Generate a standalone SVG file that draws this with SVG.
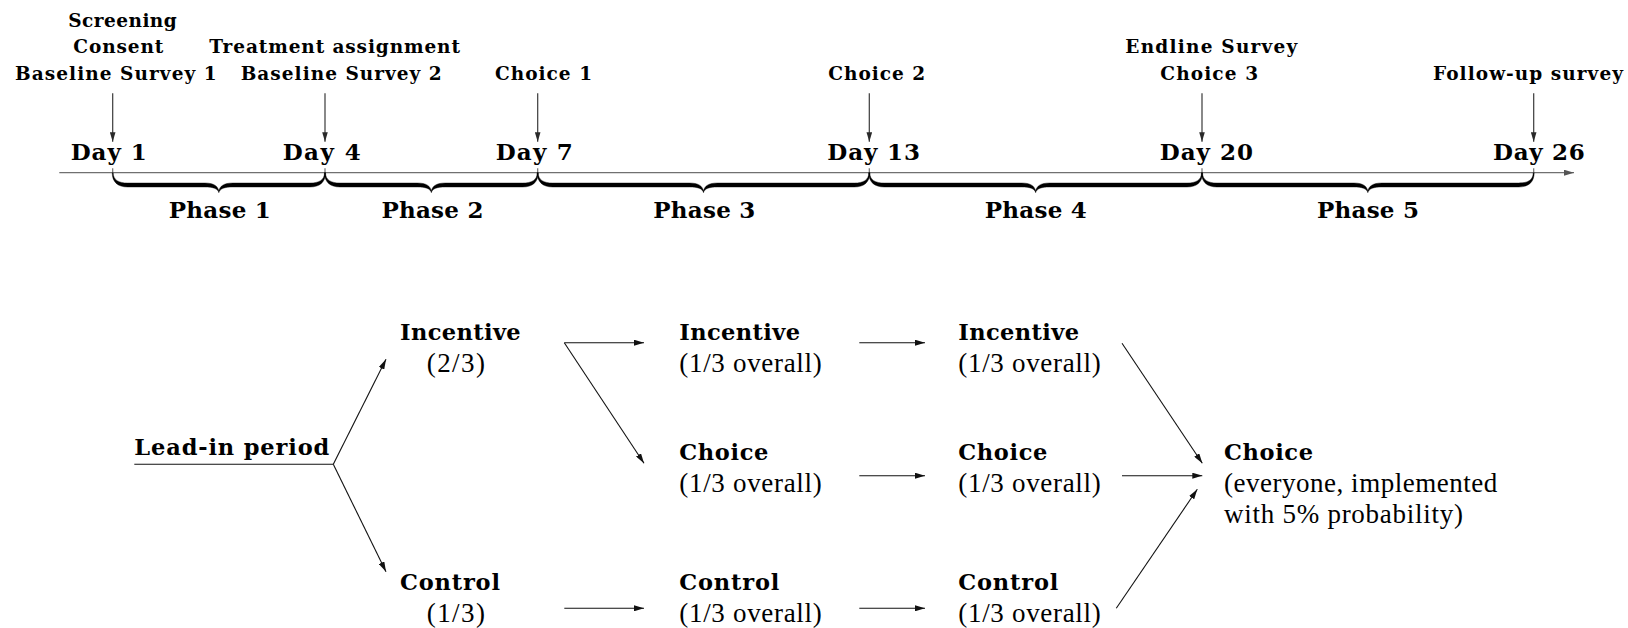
<svg xmlns="http://www.w3.org/2000/svg" width="1628" height="628" viewBox="0 0 1628 628">
<style>
.lb{font-family:"DejaVu Serif","Liberation Serif",serif;font-weight:bold;font-size:18.5px;fill:#000}
.dy{font-family:"DejaVu Serif","Liberation Serif",serif;font-weight:bold;font-size:23px;fill:#000}
.bb{font-family:"DejaVu Serif","Liberation Serif",serif;font-weight:bold;font-size:22.5px;fill:#000}
.rg{font-family:"Liberation Serif","DejaVu Serif",serif;font-size:27px;fill:#000}
.axis{stroke:#707070;stroke-width:1.3;fill:none}
.tick{stroke:#707070;stroke-width:1.2}
.tarr{stroke:#3a3a3a;stroke-width:1.2;fill:none}
.barr{stroke:#111;stroke-width:1.1;fill:none}
.brace{fill:#000;stroke:#000;stroke-width:0.4}
</style>
<defs>
<marker id="ahg" viewBox="0 0 10 6" refX="10" refY="3" markerWidth="10" markerHeight="6" orient="auto" markerUnits="userSpaceOnUse"><path d="M0,0 L10,3 L0,6 Z" fill="#555"/></marker>
<marker id="aht" viewBox="0 0 10 6" refX="10" refY="3" markerWidth="10" markerHeight="5.6" orient="auto" markerUnits="userSpaceOnUse"><path d="M0,0 L10,3 L0,6 Z" fill="#2a2a2a"/></marker>
<marker id="ahb" viewBox="0 0 10 6" refX="10" refY="3" markerWidth="10" markerHeight="6" orient="auto" markerUnits="userSpaceOnUse"><path d="M0,0 L10,3 L0,6 Z" fill="#111"/></marker>
</defs>

<g id="timeline">
<line class="axis" x1="59.3" y1="172.7" x2="1574" y2="172.7" marker-end="url(#ahg)"/>
<g id="ticks">
<line class="tick" x1="112.7" y1="168.3" x2="112.7" y2="172.7"/>
<line class="tick" x1="325" y1="168.3" x2="325" y2="172.7"/>
<line class="tick" x1="537.7" y1="168.3" x2="537.7" y2="172.7"/>
<line class="tick" x1="869.3" y1="168.3" x2="869.3" y2="172.7"/>
<line class="tick" x1="1202" y1="168.3" x2="1202" y2="172.7"/>
<line class="tick" x1="1533.7" y1="168.3" x2="1533.7" y2="172.7"/>
</g>
<g id="braces">
<path class="brace" d="M113.2,172.7 C113.2,180 118.7,183 127.7,183 L204.85,183 C213.85,183 217.85,186 218.85,191 C219.85,186 223.85,183 232.85,183 L310,183 C319,183 324.5,180 324.5,172.7 L325.5,172.7 C325.5,182 320,187 310,187 L232.85,187 C224.85,187 219.85,188.5 218.85,192.7 C217.85,188.5 212.85,187 204.85,187 L127.7,187 C117.7,187 112.2,182 112.2,172.7 Z"/>
<path class="brace" d="M325.5,172.7 C325.5,180 331,183 340,183 L417.35,183 C426.35,183 430.35,186 431.35,191 C432.35,186 436.35,183 445.35,183 L522.7,183 C531.7,183 537.2,180 537.2,172.7 L538.2,172.7 C538.2,182 532.7,187 522.7,187 L445.35,187 C437.35,187 432.35,188.5 431.35,192.7 C430.35,188.5 425.35,187 417.35,187 L340,187 C330,187 324.5,182 324.5,172.7 Z"/>
<path class="brace" d="M538.2,172.7 C538.2,180 543.7,183 552.7,183 L689.5,183 C698.5,183 702.5,186 703.5,191 C704.5,186 708.5,183 717.5,183 L854.3,183 C863.3,183 868.8,180 868.8,172.7 L869.8,172.7 C869.8,182 864.3,187 854.3,187 L717.5,187 C709.5,187 704.5,188.5 703.5,192.7 C702.5,188.5 697.5,187 689.5,187 L552.7,187 C542.7,187 537.2,182 537.2,172.7 Z"/>
<path class="brace" d="M869.8,172.7 C869.8,180 875.3,183 884.3,183 L1021.65,183 C1030.65,183 1034.65,186 1035.65,191 C1036.65,186 1040.65,183 1049.65,183 L1187,183 C1196,183 1201.5,180 1201.5,172.7 L1202.5,172.7 C1202.5,182 1197,187 1187,187 L1049.65,187 C1041.65,187 1036.65,188.5 1035.65,192.7 C1034.65,188.5 1029.65,187 1021.65,187 L884.3,187 C874.3,187 868.8,182 868.8,172.7 Z"/>
<path class="brace" d="M1202.5,172.7 C1202.5,180 1208,183 1217,183 L1353.85,183 C1362.85,183 1366.85,186 1367.85,191 C1368.85,186 1372.85,183 1381.85,183 L1518.7,183 C1527.7,183 1533.2,180 1533.2,172.7 L1534.2,172.7 C1534.2,182 1528.7,187 1518.7,187 L1381.85,187 C1373.85,187 1368.85,188.5 1367.85,192.7 C1366.85,188.5 1361.85,187 1353.85,187 L1217,187 C1207,187 1201.5,182 1201.5,172.7 Z"/>
</g>
</g>

<g id="connectors">
<line class="tarr" x1="112.7" y1="93.3" x2="112.7" y2="141.7" marker-end="url(#aht)"/>
<line class="tarr" x1="325" y1="93.3" x2="325" y2="141.7" marker-end="url(#aht)"/>
<line class="tarr" x1="537.7" y1="93.3" x2="537.7" y2="141.7" marker-end="url(#aht)"/>
<line class="tarr" x1="869.3" y1="93.3" x2="869.3" y2="141.7" marker-end="url(#aht)"/>
<line class="tarr" x1="1202" y1="93.3" x2="1202" y2="141.7" marker-end="url(#aht)"/>
<line class="tarr" x1="1533.7" y1="93.3" x2="1533.7" y2="141.7" marker-end="url(#aht)"/>

<line class="barr" x1="134.3" y1="464.3" x2="333.3" y2="464.3"/>
<line class="barr" x1="333.3" y1="464.3" x2="386" y2="359.3" marker-end="url(#ahb)"/>
<line class="barr" x1="333.3" y1="464.3" x2="386" y2="571.7" marker-end="url(#ahb)"/>
<line class="barr" x1="564.3" y1="342.7" x2="644" y2="342.7" marker-end="url(#ahb)"/>
<line class="barr" x1="564.3" y1="342.7" x2="644" y2="463.3" marker-end="url(#ahb)"/>
<line class="barr" x1="564.3" y1="608.3" x2="644" y2="608.3" marker-end="url(#ahb)"/>
<line class="barr" x1="859.3" y1="342.7" x2="925" y2="342.7" marker-end="url(#ahb)"/>
<line class="barr" x1="859.3" y1="475.7" x2="925" y2="475.7" marker-end="url(#ahb)"/>
<line class="barr" x1="859.3" y1="608.3" x2="925" y2="608.3" marker-end="url(#ahb)"/>
<line class="barr" x1="1122" y1="343.3" x2="1202.3" y2="463.3" marker-end="url(#ahb)"/>
<line class="barr" x1="1122" y1="475.7" x2="1202.3" y2="475.7" marker-end="url(#ahb)"/>
<line class="barr" x1="1116.3" y1="608.3" x2="1197.3" y2="489.3" marker-end="url(#ahb)"/>
</g>

<g id="label-day1">
<text class="lb" x="68.3" y="26.7" textLength="108.4">Screening</text>
<text class="lb" x="73.3" y="53.3" textLength="90">Consent</text>
<text class="lb" x="15" y="80" textLength="201.7">Baseline Survey 1</text>
</g>
<g id="label-day4">
<text class="lb" x="209.3" y="53.3" textLength="250.7">Treatment assignment</text>
<text class="lb" x="240.7" y="80" textLength="201">Baseline Survey 2</text>
</g>
<g id="label-day7"><text class="lb" x="495" y="80" textLength="97">Choice 1</text></g>
<g id="label-day13"><text class="lb" x="828.3" y="80" textLength="96.7">Choice 2</text></g>
<g id="label-day20">
<text class="lb" x="1125.3" y="53.3" textLength="172">Endline Survey</text>
<text class="lb" x="1160.3" y="80" textLength="97.7">Choice 3</text>
</g>
<g id="label-day26"><text class="lb" x="1433" y="80" textLength="190">Follow-up survey</text></g>

<g id="days">
<text class="dy" x="70.7" y="160" textLength="76">Day 1</text>
<text class="dy" x="282.7" y="160" textLength="78">Day 4</text>
<text class="dy" x="495.7" y="160" textLength="77">Day 7</text>
<text class="dy" x="827.3" y="160" textLength="92.7">Day 13</text>
<text class="dy" x="1159.7" y="160" textLength="93.3">Day 20</text>
<text class="dy" x="1493" y="160" textLength="91.7">Day 26</text>
</g>
<g id="phases">
<text class="dy" x="219.8" y="218.3" text-anchor="middle" textLength="102">Phase 1</text>
<text class="dy" x="432.4" y="218.3" text-anchor="middle" textLength="102">Phase 2</text>
<text class="dy" x="704.3" y="218.3" text-anchor="middle" textLength="102">Phase 3</text>
<text class="dy" x="1035.8" y="218.3" text-anchor="middle" textLength="102">Phase 4</text>
<text class="dy" x="1368" y="218.3" text-anchor="middle" textLength="102">Phase 5</text>
</g>

<g id="lead-in"><text class="bb" x="134.3" y="455" textLength="195">Lead-in period</text></g>
<g id="incentive-1">
<text class="bb" x="400" y="340" textLength="120.7">Incentive</text>
<text class="rg" x="426.7" y="371.7" textLength="58.3">(2/3)</text>
</g>
<g id="control-1">
<text class="bb" x="400" y="590" textLength="100">Control</text>
<text class="rg" x="426.7" y="621.7" textLength="58.3">(1/3)</text>
</g>
<g id="incentive-2">
<text class="bb" x="679.3" y="340" textLength="120.7">Incentive</text>
<text class="rg" x="679.3" y="371.7" textLength="142.4">(1/3 overall)</text>
</g>
<g id="choice-2">
<text class="bb" x="679.3" y="460" textLength="89">Choice</text>
<text class="rg" x="679.3" y="491.7" textLength="142.4">(1/3 overall)</text>
</g>
<g id="control-2">
<text class="bb" x="679.3" y="590" textLength="100">Control</text>
<text class="rg" x="679.3" y="621.7" textLength="142.4">(1/3 overall)</text>
</g>
<g id="incentive-3">
<text class="bb" x="958.3" y="340" textLength="120.7">Incentive</text>
<text class="rg" x="958.3" y="371.7" textLength="142.4">(1/3 overall)</text>
</g>
<g id="choice-3">
<text class="bb" x="958.3" y="460" textLength="89">Choice</text>
<text class="rg" x="958.3" y="491.7" textLength="142.4">(1/3 overall)</text>
</g>
<g id="control-3">
<text class="bb" x="958.3" y="590" textLength="100">Control</text>
<text class="rg" x="958.3" y="621.7" textLength="142.4">(1/3 overall)</text>
</g>
<g id="choice-final">
<text class="bb" x="1224" y="460" textLength="89">Choice</text>
<text class="rg" x="1224" y="491.7" textLength="273.3">(everyone, implemented</text>
<text class="rg" x="1224" y="522.7" textLength="239">with 5% probability)</text>
</g>
</svg>
